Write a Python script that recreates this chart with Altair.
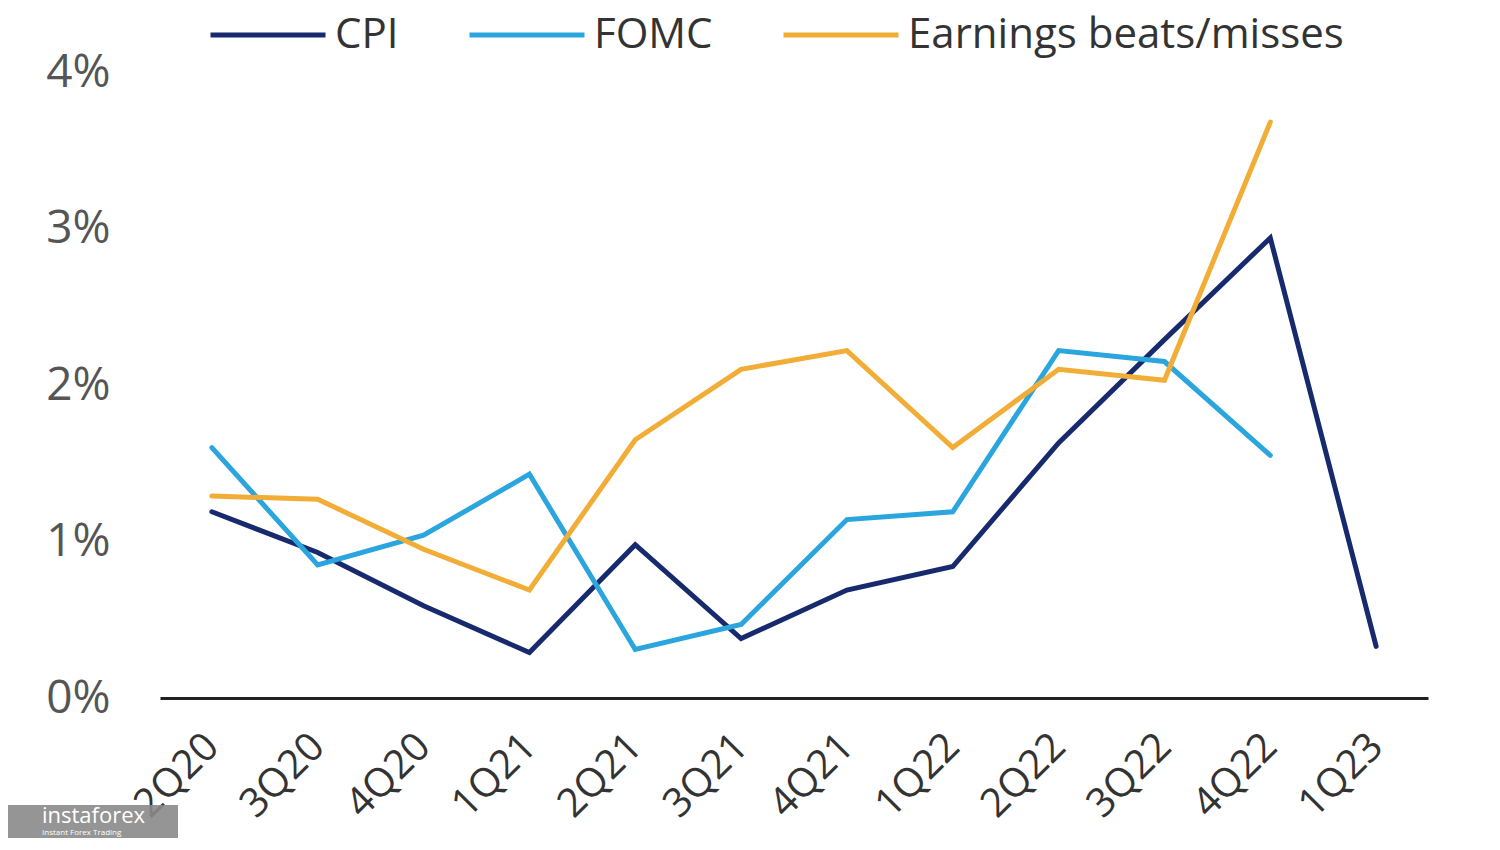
import altair as alt
import pandas as pd

quarters = ["2Q20", "3Q20", "4Q20", "1Q21", "2Q21", "3Q21", "4Q21", "1Q22",
            "2Q22", "3Q22", "4Q22", "1Q23"]
cpi = [1.19, 0.93, 0.59, 0.29, 0.98, 0.38, 0.69, 0.84, 1.63, 2.29, 2.94, 0.33]
fomc = [1.60, 0.85, 1.04, 1.43, 0.31, 0.47, 1.14, 1.19, 2.22, 2.15, 1.55, None]
earnings = [1.29, 1.27, 0.95, 0.69, 1.65, 2.10, 2.22, 1.60, 2.10, 2.03, 3.68, None]
series_names = ["CPI", "FOMC", "Earnings beats/misses"]
series_colors = ["#172a6e", "#2aa5de", "#f2ad37"]
y_ticks = [0, 0.01, 0.02, 0.03, 0.04]

rows = []
for name, vals in zip(series_names, [cpi, fomc, earnings]):
    for q, v in zip(quarters, vals):
        if v is not None:
            rows.append({"quarter": q, "value": v / 100.0, "series": name})
df = pd.DataFrame(rows)

FONT = "Open Sans"

lines = alt.Chart(df).mark_line(strokeWidth=5, strokeCap="round", strokeJoin="miter").encode(
    x=alt.X("quarter:N", sort=quarters, title=None,
            scale=alt.Scale(type="point", padding=0.49),
            axis=alt.Axis(labelAngle=-45, labelAlign="right", labelBaseline="middle",
                          labelFontSize=40, labelColor="#333333", labelFont=FONT,
                          labelPadding=42, ticks=False,
                          domainColor="#222222", domainWidth=3, grid=False)),
    y=alt.Y("value:Q", title=None,
            scale=alt.Scale(domain=[0, 0.04], nice=False, zero=True),
            axis=alt.Axis(values=y_ticks, format=".0%", labelFontSize=46,
                          labelColor="#555555", labelFont=FONT, labelPadding=50,
                          ticks=False, domain=False, grid=False)),
    color=alt.Color("series:N", title=None,
                    scale=alt.Scale(domain=series_names, range=series_colors),
                    legend=alt.Legend(orient="none", legendX=48, legendY=-97,
                                      direction="horizontal", symbolType="stroke",
                                      symbolSize=13225, symbolStrokeWidth=5,
                                      labelFontSize=42, labelFont=FONT,
                                      labelColor="#333333", labelOffset=7,
                                      labelLimit=0, columnPadding=60)),
    detail="series:N",
)

wm_df = pd.DataFrame({"t": ["instaforex"], "s": ["Instant Forex Trading"]})
wm_rect = alt.Chart(wm_df).mark_rect(color="#8a8a8a", opacity=0.9).encode(
    x=alt.value(-152), x2=alt.value(18), y=alt.value(733), y2=alt.value(766))
wm_text = alt.Chart(wm_df).mark_text(color="white", fontSize=22, font=FONT,
                                     align="left", baseline="alphabetic").encode(
    x=alt.value(-118), y=alt.value(751), text="t:N")
wm_sub = alt.Chart(wm_df).mark_text(color="white", fontSize=8, font=FONT,
                                    align="left", baseline="alphabetic").encode(
    x=alt.value(-118), y=alt.value(763), text="s:N")

chart = alt.layer(lines, wm_rect, wm_text, wm_sub).properties(
    width=1268, height=626,
    autosize=alt.AutoSizeParams(type="none"),
    padding={"left": 152, "top": 64, "right": 60, "bottom": 142},
    background="white",
).configure_view(stroke=None)

chart.save("out.html", embed_options={"renderer": "svg", "actions": False})
